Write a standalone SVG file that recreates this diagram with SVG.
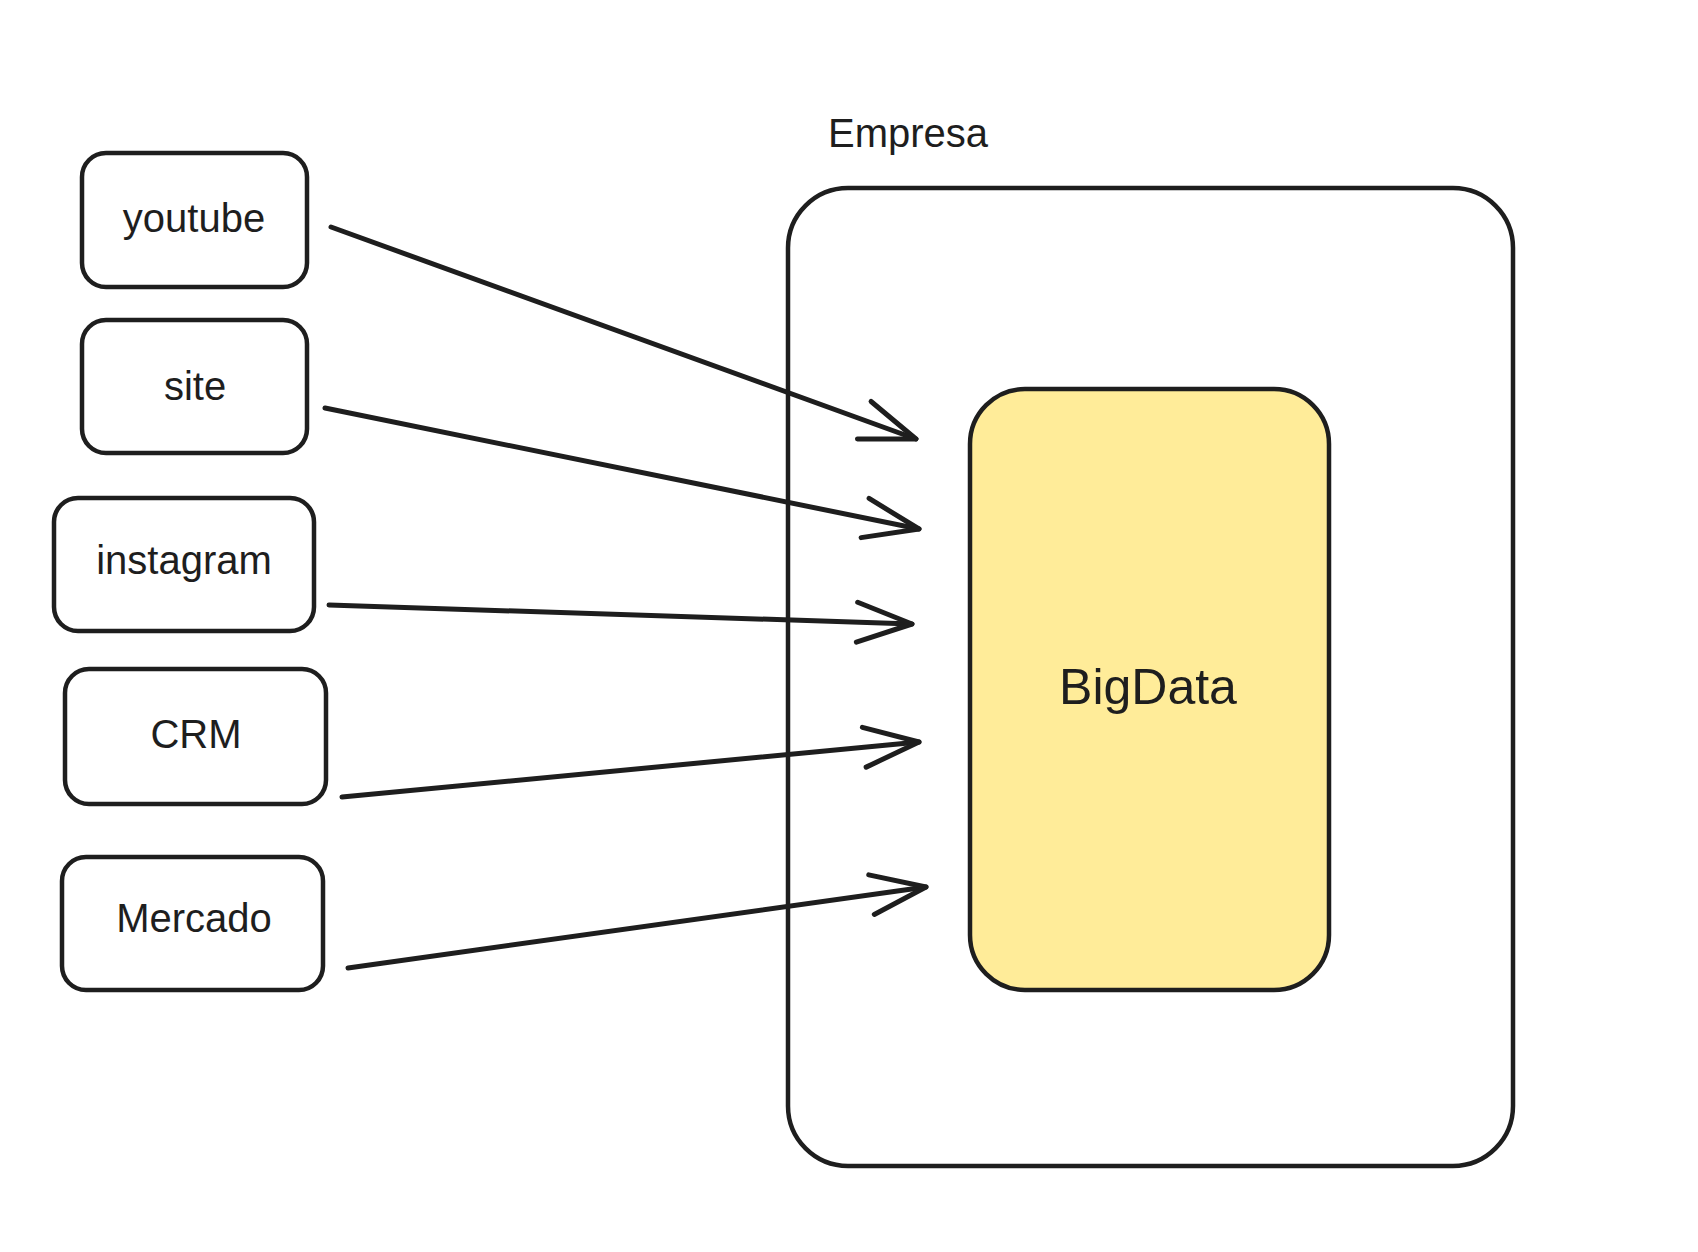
<svg xmlns="http://www.w3.org/2000/svg" width="1698" height="1252" viewBox="0 0 1698 1252">
  <defs>
    <style>
      .box { fill: #ffffff; stroke: #1e1e1e; stroke-width: 4.5; stroke-linejoin: round; }
      .big { fill: #ffec99; stroke: #1e1e1e; stroke-width: 4.5; }
      .lbl { font-family: "Liberation Sans", Arial, sans-serif; font-size: 40px; fill: #1e1e1e; text-anchor: middle; }
      .title { font-family: "Liberation Sans", Arial, sans-serif; font-size: 40px; fill: #1e1e1e; }
      .conn { fill: none; stroke: #1e1e1e; stroke-width: 5; stroke-linecap: round; }
    </style>
    <marker id="arr" markerUnits="userSpaceOnUse" markerWidth="80" markerHeight="60" viewBox="-70 -30 80 60" refX="0" refY="0" orient="auto" overflow="visible">
      <path d="M -55 -20 L 0 0 L -55 20" fill="none" stroke="#1e1e1e" stroke-width="5" stroke-linecap="round" stroke-linejoin="round"/>
    </marker>
  </defs>
  <rect width="1698" height="1252" fill="#ffffff"/>

  <g id="empresa">
    <text class="title" x="828" y="147">Empresa</text>
    <rect class="box" x="788" y="188" width="725" height="978" rx="60" ry="60" style="fill:none"/>
  </g>

  <g id="bigdata">
    <rect class="big" x="970" y="389" width="359" height="601" rx="55" ry="55"/>
    <text class="lbl" x="1148" y="704" style="font-size:50px">BigData</text>
  </g>

  <g id="youtube">
    <rect class="box" x="82" y="153" width="225" height="134" rx="24" ry="24"/>
    <text class="lbl" x="194" y="232">youtube</text>
  </g>
  <g id="site">
    <rect class="box" x="82" y="320" width="225" height="133" rx="24" ry="24"/>
    <text class="lbl" x="195" y="400">site</text>
  </g>
  <g id="instagram">
    <rect class="box" x="54" y="498" width="260" height="133" rx="24" ry="24"/>
    <text class="lbl" x="184" y="574">instagram</text>
  </g>
  <g id="crm">
    <rect class="box" x="65" y="669" width="261" height="135" rx="24" ry="24"/>
    <text class="lbl" x="196" y="748">CRM</text>
  </g>
  <g id="mercado">
    <rect class="box" x="62" y="857" width="261" height="133" rx="24" ry="24"/>
    <text class="lbl" x="194" y="932">Mercado</text>
  </g>

  <g id="connectors">
    <path class="conn" d="M 331 227 L 916 439" marker-end="url(#arr)"/>
    <path class="conn" d="M 325 408 L 919 529" marker-end="url(#arr)"/>
    <path class="conn" d="M 329 605 L 912 624" marker-end="url(#arr)"/>
    <path class="conn" d="M 342 797 L 919 742" marker-end="url(#arr)"/>
    <path class="conn" d="M 348 968 L 926 887" marker-end="url(#arr)"/>
  </g>
</svg>
